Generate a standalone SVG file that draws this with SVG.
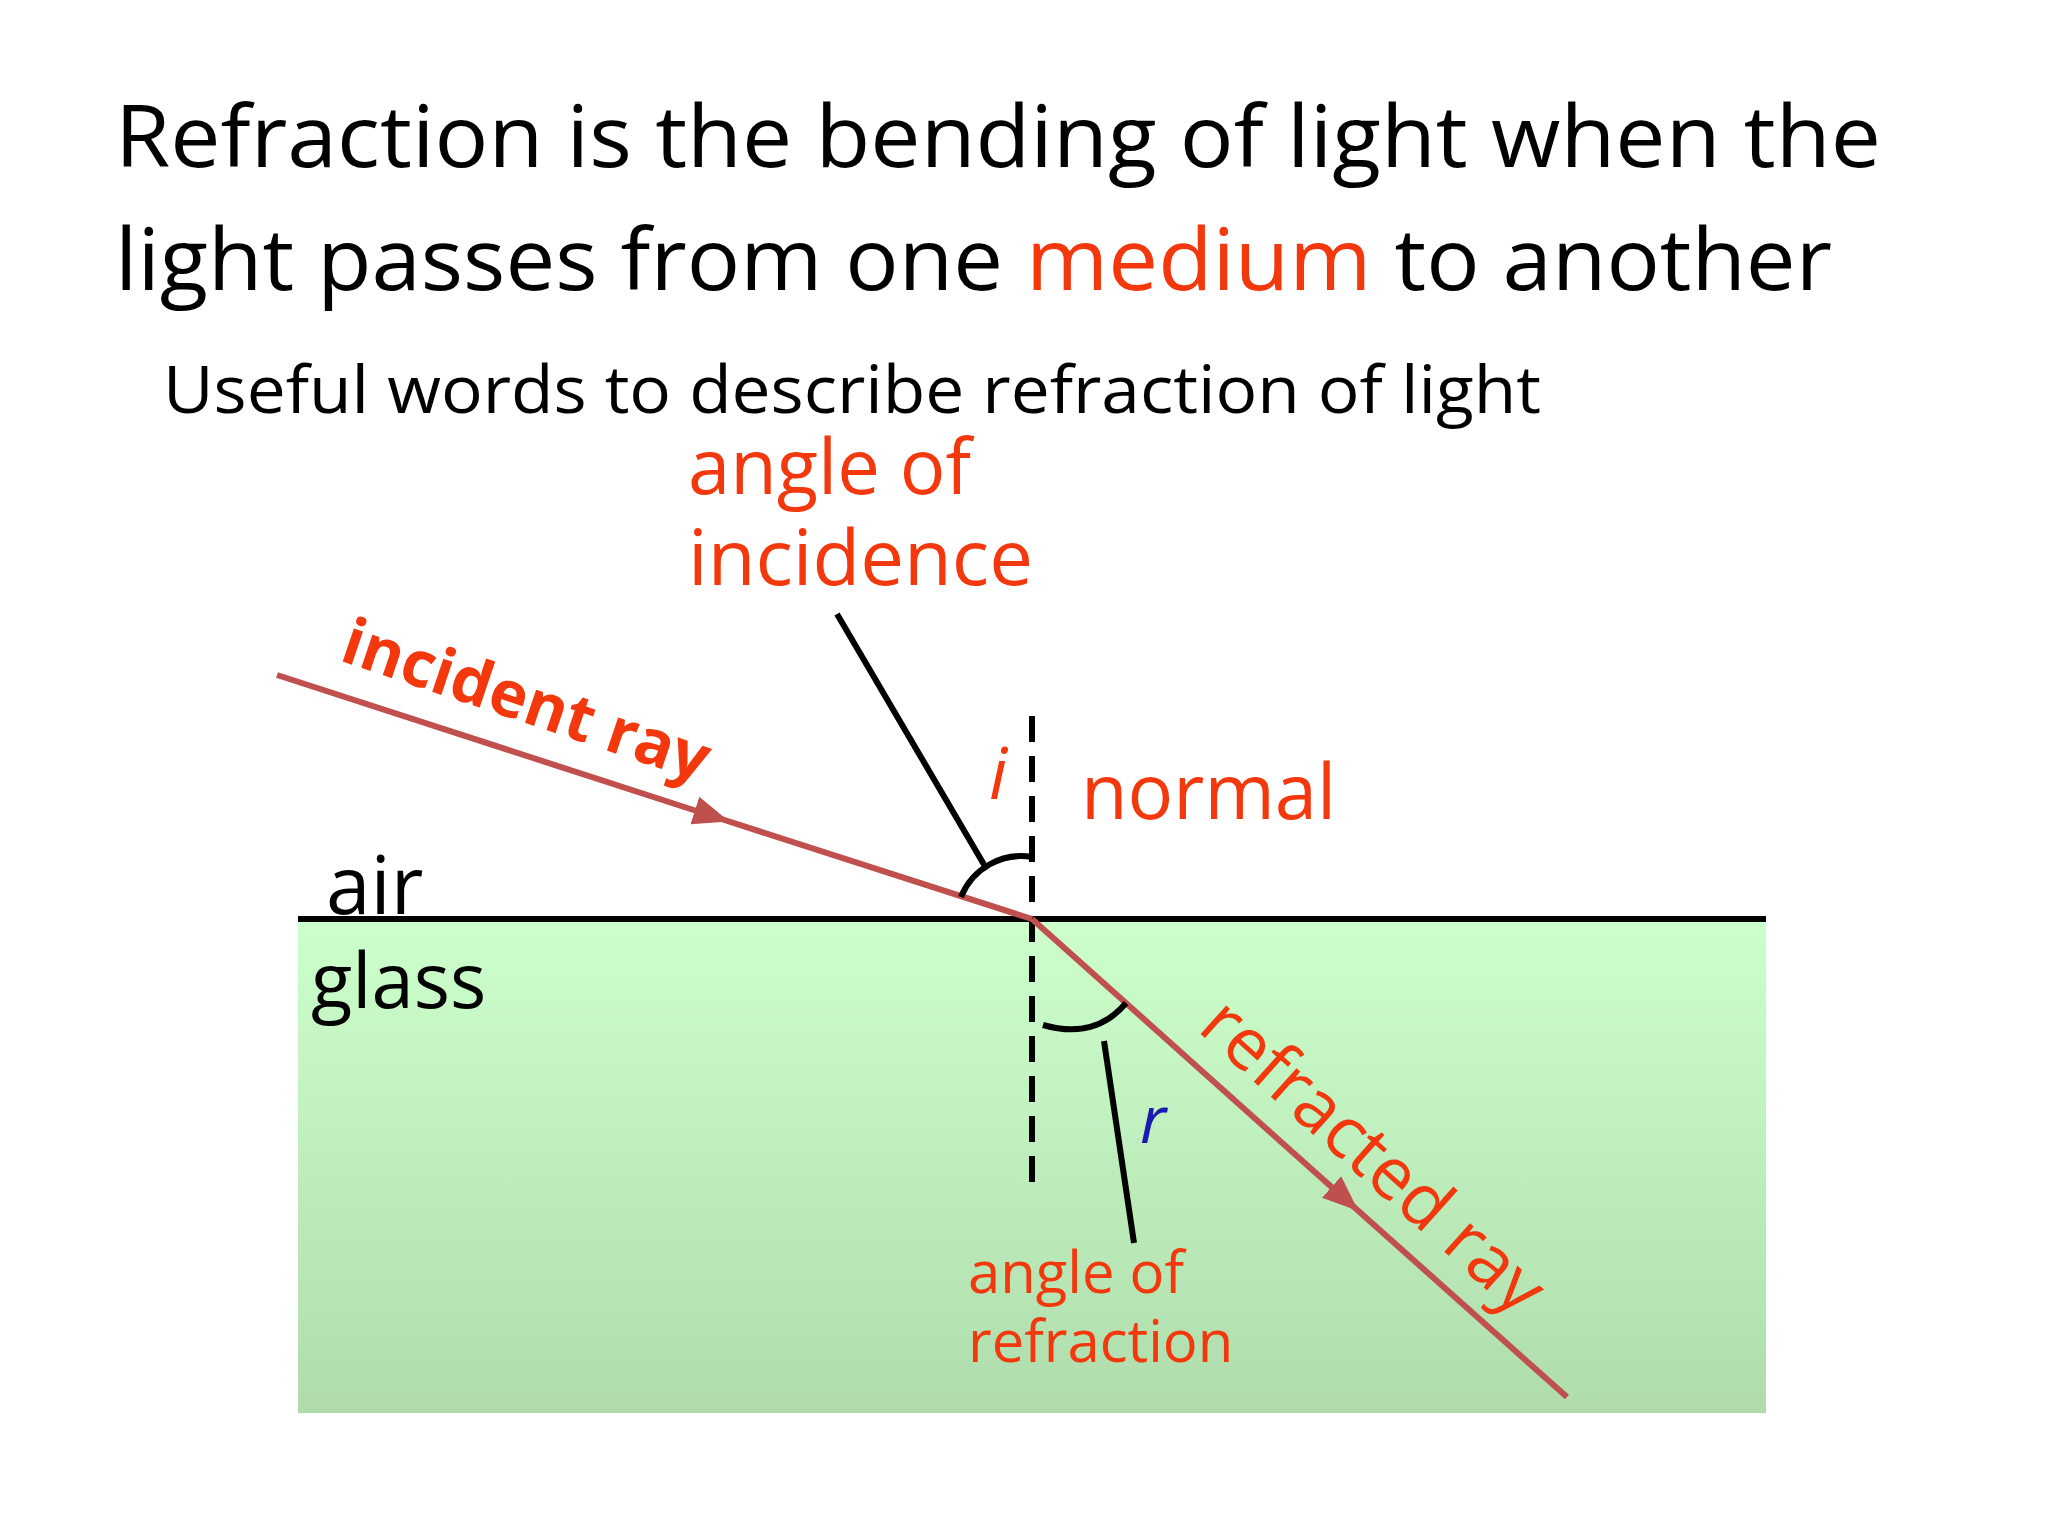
<svg xmlns="http://www.w3.org/2000/svg" width="2048" height="1536" viewBox="0 0 2048 1536">
<style>
text{font-family:"Open Sans","Noto Sans",sans-serif}
.red{fill:#f2380c}
.blk{fill:#000}
.ray{stroke:#c0504d;stroke-width:6;fill:none}
.ln{stroke:#000;stroke-width:6;fill:none}
</style>
<defs>
<linearGradient id="g" x1="0" y1="0" x2="0" y2="1"><stop offset="0" stop-color="#ccffcc"/><stop offset="1" stop-color="#b0dcac"/></linearGradient>
<marker id="ah" viewBox="0 0 10 10" refX="5" refY="5" markerWidth="6" markerHeight="6" orient="auto" markerUnits="strokeWidth"><path d="M0,1 L10,5 L0,9 z" fill="#c0504d"/></marker>
</defs>
<rect width="2048" height="1536" fill="#fff"/>
<g id="title">
<text x="115" y="167" font-size="86" class="blk" textLength="1766" lengthAdjust="spacingAndGlyphs">Refraction is the bending of light when the</text>
<text x="115" y="290" font-size="86" class="blk" textLength="1717" lengthAdjust="spacingAndGlyphs">light passes from one <tspan class="red">medium</tspan> to another</text>
<text x="163" y="413" font-size="65" class="blk" textLength="1378" lengthAdjust="spacingAndGlyphs">Useful words to describe refraction of light</text>
</g>
<g id="glass"><rect x="298" y="919" width="1468" height="494" fill="url(#g)"/></g>
<g id="connectors">
<line class="ln" x1="298" y1="919" x2="1766" y2="919"/>
<line class="ln" x1="1032" y1="716" x2="1032" y2="1195" stroke-dasharray="26,14"/>
<path class="ray" d="M277,675 L712,816" marker-end="url(#ah)"/>
<path class="ray" d="M712,816 L1032,919"/>
<path class="ray" d="M1032,919 L1345,1199" marker-end="url(#ah)"/>
<path class="ray" d="M1345,1199 L1567,1397"/>
<path class="ln" d="M961,897 A65,65 0 0 1 1032,857"/>
<path class="ln" d="M1043,1025 Q1095,1040 1126,1003"/>
<line class="ln" x1="837" y1="614" x2="986" y2="868"/>
<line class="ln" x1="1104" y1="1041" x2="1134" y2="1243"/>
</g>
<g id="labels">
<text x="688" y="494" font-size="76" class="red">angle of</text>
<text x="688" y="585" font-size="76" class="red" textLength="345" lengthAdjust="spacingAndGlyphs">incidence</text>
<text x="989" y="799" font-size="72" font-style="italic" class="red">i</text>
<text x="1081" y="819" font-size="76" class="red">normal</text>
<text x="326" y="914" font-size="80" class="blk">air</text>
<text x="311" y="1008" font-size="76" class="blk">glass</text>
<text x="1140" y="1143" font-size="66" font-style="italic" fill="#1a1ab0">r</text>
<text x="968" y="1293" font-size="58" class="red">angle of</text>
<text x="968" y="1362" font-size="58" class="red">refraction</text>
<text x="338" y="660" font-size="64" font-weight="bold" class="red" transform="rotate(18.6 338 660)">incident ray</text>
<text x="1196" y="1030" font-size="72" class="red" transform="rotate(41.8 1196 1030)">refracted ray</text>
</g>
</svg>
